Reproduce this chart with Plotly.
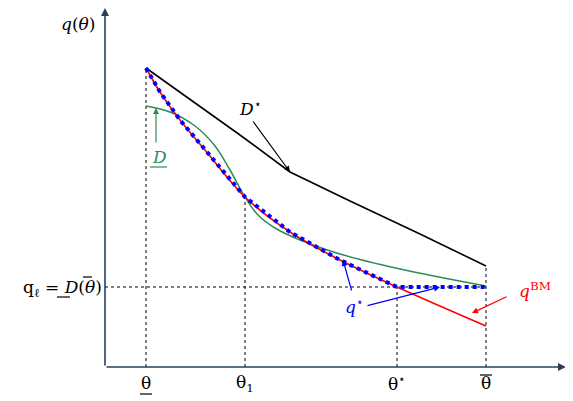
import plotly.graph_objects as go

# diagram coordinates (pixel-like units, y grows downward)
theta_ticks = [146, 245, 397, 486]
theta_labels = ["θ", "θ<sub>1</sub>", "θ<sup>⋆</sup>", "θ"]

dstar_x = [146, 190, 240, 290, 350, 420, 486]
dstar_y = [68, 99, 135, 172, 201, 234, 266]

dlow_x = [146, 170, 195, 215, 230, 245, 258, 275, 300, 340, 400, 486]
dlow_y = [106, 112, 126, 146, 170, 197, 215, 228, 240, 254, 269, 286]

qbm_x = [146, 160, 180, 205, 245, 290, 340, 397, 486]
qbm_y = [68, 92, 120, 150, 197, 232, 260, 287, 326]

qstar_x = [146, 160, 180, 205, 245, 290, 340, 397, 486]
qstar_y = [68, 92, 120, 150, 197, 232, 260, 287, 287]

q_level = 287
ax0_x, ax0_y = 105, 367

fig = go.Figure()
serif = "DejaVu Serif"

for tx, top in zip(theta_ticks, [68, 197, 287, 266]):
    fig.add_trace(go.Scatter(x=[tx, tx], y=[ax0_y, top], mode="lines",
                             line=dict(color="black", width=1, dash="dot")))
fig.add_trace(go.Scatter(x=[ax0_x, 486], y=[q_level, q_level], mode="lines",
                         line=dict(color="black", width=1, dash="dot")))

fig.add_trace(go.Scatter(x=dstar_x, y=dstar_y, mode="lines",
                         line=dict(color="black", width=1.6)))
fig.add_trace(go.Scatter(x=dlow_x, y=dlow_y, mode="lines", line_shape="spline",
                         line=dict(color="#2e8b57", width=1.5)))
fig.add_trace(go.Scatter(x=qbm_x, y=qbm_y, mode="lines", line_shape="spline",
                         line=dict(color="red", width=1.6)))
fig.add_trace(go.Scatter(x=qstar_x, y=qstar_y, mode="lines",
                         line=dict(color="blue", width=4, dash="dot")))

fig.add_annotation(x=566, y=ax0_y, ax=ax0_x, ay=ax0_y, xref="x", yref="y",
                   axref="x", ayref="y", showarrow=True, arrowhead=2,
                   arrowwidth=1.6, text="")
fig.add_annotation(x=ax0_x, y=8, ax=ax0_x, ay=ax0_y, xref="x", yref="y",
                   axref="x", ayref="y", showarrow=True, arrowhead=2,
                   arrowwidth=1.6, text="")

f = dict(family=serif, size=17, color="black")
for tx, lab in zip(theta_ticks, theta_labels):
    fig.add_annotation(x=tx, y=383, text=lab, showarrow=False, font=f)
fig.add_annotation(x=78, y=24, text="<i>q</i>(<i>θ</i>)", showarrow=False, font=f)
fig.add_annotation(x=62, y=288, text="q<sub>ℓ</sub> = <i>D</i>(<i>θ</i>)",
                   showarrow=False, font=f)


def bar(x0, x1, y, color="black"):
    fig.add_shape(type="line", x0=x0, x1=x1, y0=y, y1=y,
                  line=dict(color=color, width=1.2))


bar(140, 152, 394)   # underline theta
bar(480, 492, 375)   # overline theta
bar(150, 167, 167, "#2e8b57")  # underline D
bar(57, 70, 297)     # underline D in q_l
bar(83, 92, 277)     # overline theta in q_l


def arrow(tx, ty, px, py, color):
    fig.add_annotation(x=px, y=py, ax=tx, ay=ty, xref="x", yref="y", axref="x",
                       ayref="y", text="", showarrow=True, arrowhead=2,
                       arrowwidth=1.2, arrowcolor=color)


fig.add_annotation(x=250, y=108, text="<i>D</i><sup>⋆</sup>", showarrow=False,
                   font=dict(family=serif, size=17, color="black"))
arrow(252, 120, 290, 172, "black")
fig.add_annotation(x=159, y=157, text="<i>D</i>", showarrow=False,
                   font=dict(family=serif, size=17, color="#2e8b57"))
arrow(156, 144, 156, 108, "#2e8b57")
fig.add_annotation(x=354, y=306, text="<i>q</i><sup>⋆</sup>", showarrow=False,
                   font=dict(family=serif, size=17, color="blue"))
arrow(352, 292, 343, 260, "blue")
arrow(366, 306, 440, 287, "blue")
fig.add_annotation(x=535, y=290, text="<i>q</i><sup>BM</sup>", showarrow=False,
                   font=dict(family=serif, size=17, color="red"))
arrow(508, 296, 472, 313, "red")

# page has an 8px body offset, so shift the visible window accordingly
fig.update_xaxes(range=[8, 581], visible=False)
fig.update_yaxes(range=[409, 8], visible=False)
fig.update_layout(width=573, height=401, margin=dict(l=0, r=0, t=0, b=0),
                  showlegend=False, plot_bgcolor="white", paper_bgcolor="white")
fig.write_html("out.html")
